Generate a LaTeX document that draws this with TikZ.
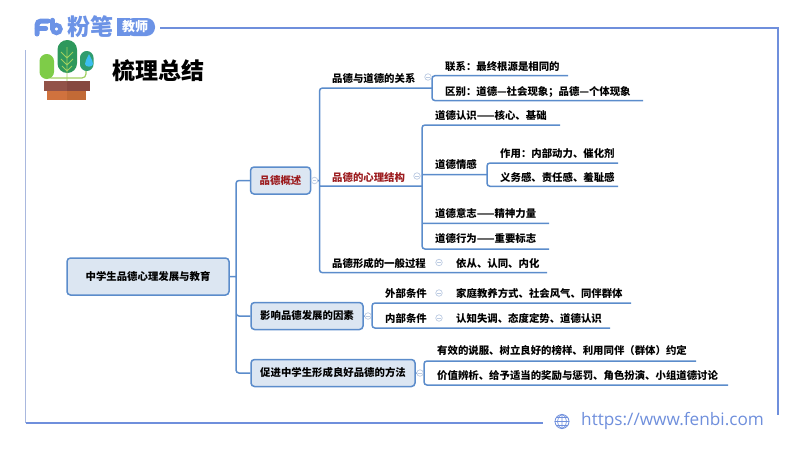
\documentclass[tikz,border=0pt]{standalone}
\usepackage{fontspec}
\setmainfont{Noto Sans CJK SC}
\newfontfamily\urlfont{Open Sans}
\usetikzlibrary{positioning}
\definecolor{linkblue}{HTML}{5B8CCB}
\definecolor{boxfill}{HTML}{DCE6F2}
\definecolor{foldblue}{HTML}{BCCBE2}
\definecolor{darkred}{HTML}{9C1C1F}
\definecolor{framedark}{HTML}{6F8FDC}
\definecolor{framelight}{HTML}{A9B8DE}
\definecolor{logoblue}{HTML}{6C93E6}
\definecolor{stemgreen}{HTML}{A0D060}
\definecolor{leafdark}{HTML}{2E985C}
\definecolor{leaflight}{HTML}{7ECC48}
\definecolor{leafmid}{HTML}{309C6E}
\definecolor{dropblue}{HTML}{3CBEF0}
\definecolor{potlight}{HTML}{D0723E}
\definecolor{potdark}{HTML}{C26A36}
\definecolor{rimlight}{HTML}{925248}
\definecolor{rimdark}{HTML}{864840}
\tikzset{
  link/.style={draw=linkblue,line width=1.5pt,rounded corners=3pt},
  mainbox/.style={draw=linkblue,fill=boxfill,line width=1.5pt,rounded corners=3.5pt,inner sep=0pt,font=\fontsize{10.4pt}{12pt}\selectfont\bfseries},
  leaf/.style={inner sep=0pt,anchor=west,text=black,text height=10.4pt,text depth=1pt,font=\fontsize{10.4pt}{12pt}\selectfont\bfseries},
  fold/.style={circle,draw=foldblue,fill=white,line width=.7pt,inner sep=0pt,minimum size=6.5pt,
    path picture={\draw[foldblue,line width=.6pt] ([xshift=-1.6pt]path picture bounding box.center) -- ([xshift=1.6pt]path picture bounding box.center);}},
}
\begin{document}
\begin{tikzpicture}[x=1pt,y=-1pt]
        \useasboundingbox (0,0) rectangle (800,450);
        % frame
        \coordinate (top_a) at (160,28);
        \coordinate (top_b) at (778,28);
        \coordinate (right_b) at (778,415);
        \coordinate (left_a) at (25.5,50);
        \coordinate (left_b) at (25.5,423);
        \coordinate (bottom_b) at (543,423);
        \draw[framedark,line width=1.3pt] (top_a) -- (top_b) -- (right_b);
        \draw[framelight,line width=1.5pt] (left_a) -- (left_b);
        \draw[framedark,line width=1.3pt] (left_b) -- (bottom_b);
        % logo
        \draw[logoblue,line width=5pt,line cap=round,rounded corners=4pt] (37,34) -- (37,21) -- (48,21);
        \draw[logoblue,line width=4.4pt,line cap=round] (37,28.5) -- (46,28.5);
        \draw[logoblue,line width=4.4pt,line cap=round] (52.5,20) -- (52.5,29);
        \draw[logoblue,line width=4.4pt] (56.5,29) circle (4);
        \node[text=logoblue,inner sep=0pt,font=\fontsize{23pt}{25pt}\selectfont\bfseries] (fenbi) at (90,27) {粉笔};
        \fill[logoblue,rounded corners=8.5pt] (125,18) -- (155,18) -- (155,36) -- (125,36) -- cycle;
        \fill[logoblue] (117,18) rectangle (130,36);
        \node[text=white,inner sep=0pt,font=\fontsize{13pt}{14pt}\selectfont\bfseries] (jiaoshi) at (135,27) {教师};
        % plant
        \fill[potlight] (47,91) rectangle (66.5,100);
        \fill[potdark] (66.5,91) rectangle (86,100);
        \fill[rimlight] (43.5,81) rectangle (66.5,91);
        \fill[rimdark] (66.5,81) rectangle (90,91);
        \draw[stemgreen,line width=1.2pt,rounded corners=4pt] (47,72) -- (47,78) -- (86,78) -- (86,71);
        \fill[leafdark,rounded corners=9.7pt] (57.5,40) rectangle (77,73);
        \draw[stemgreen,line width=.9pt] (67,47) -- (67,81)
          (61,52) -- (67,58) -- (73,52) (61,59) -- (67,65) -- (73,59) (62,66) -- (67,71) -- (72,66);
        \fill[leaflight,rounded corners=7.2pt] (39.5,54) rectangle (54,79);
        \fill[leafmid,rounded corners=6.7pt] (80,51) rectangle (93.5,71);
        \fill[dropblue] (89,54) .. controls (86,60) and (85,62) .. (85,64) .. controls (85,67.5) and (93,67.5) .. (93,64) .. controls (93,62) and (92,60) .. (89,54);
        \node[inner sep=0pt,font=\fontsize{23pt}{25pt}\selectfont\bfseries] (title) at (158,71) {梳理总结};
        % url
        \node[inner sep=0pt,draw=framedark,line width=.8pt,circle,minimum size=14pt] (globe) at (562,421.5) {};
        \draw[framedark,line width=.7pt] (globe.north) -- (globe.south) (globe.west) -- (globe.east)
          (globe.north) .. controls (556,416) and (556,427) .. (globe.south)
          (globe.north) .. controls (568,416) and (568,427) .. (globe.south)
          (556,417.5) -- (568,417.5) (556,425.5) -- (568,425.5);
        \node[inner sep=0pt,anchor=west,text=framedark,font=\fontsize{17.2pt}{20pt}\urlfont] (url) at (581,421) {https://www.fenbi.com};
        % main boxes
        \node[mainbox,minimum width=162pt,minimum height=37pt] (root) at (148,276.5) {中学生品德心理发展与教育};
        \node[mainbox,minimum width=60pt,minimum height=27pt,text=darkred] (gaishu) at (280.5,180.5) {品德概述};
        \node[mainbox,minimum width=112pt,minimum height=27pt] (yingxiang) at (307,316) {影响品德发展的因素};
        \node[mainbox,minimum width=164pt,minimum height=27pt] (cujin) at (333,373) {促进中学生形成良好品德的方法};
        % first level text
        \node[leaf] (guanxi) at (332,78) {品德与道德的关系};
        \node[leaf,text=darkred,below=99pt of guanxi.west,anchor=west] (jiegou) {品德的心理结构};
        \node[leaf,below=86pt of jiegou.west,anchor=west] (guocheng) {品德形成的一般过程};
        \node[leaf,right=30pt of guocheng.east,anchor=west] (yicong) {依从、认同、内化};
        \node[leaf] (lianxi) at (445,65.5) {联系：最终根源是相同的};
        \node[leaf,below=25pt of lianxi.west,anchor=west] (qubie) {区别：道德—社会现象；品德—个体现象};
        \node[leaf] (renshi) at (435,115) {道德认识——核心、基础};
        \node[leaf,below=49pt of renshi.west,anchor=west] (qinggan) {道德情感};
        \node[leaf,below=49pt of qinggan.west,anchor=west] (yizhi) {道德意志——精神力量};
        \node[leaf,below=25pt of yizhi.west,anchor=west] (xingwei) {道德行为——重要标志};
        \node[leaf] (zuoyong) at (500,153) {作用：内部动力、催化剂};
        \node[leaf,below=24pt of zuoyong.west,anchor=west] (yiwu) {义务感、责任感、羞耻感};
        \node[leaf] (waibu) at (385,293) {外部条件};
        \node[leaf,below=25pt of waibu.west,anchor=west] (neibu) {内部条件};
        \node[leaf] (jiating) at (456,293) {家庭教养方式、社会风气、同伴群体};
        \node[leaf,below=25pt of jiating.west,anchor=west] (renzhi) {认知失调、态度定势、道德认识};
        \node[leaf] (shuofu) at (437,350) {有效的说服、树立良好的榜样、利用同伴（群体）约定};
        \node[leaf,below=25pt of shuofu.west,anchor=west] (bianxi) {价值辨析、给予适当的奖励与惩罚、角色扮演、小组道德讨论};
        % forks and line ends
        \coordinate (fork_main) at (236,276.5);
        \coordinate (fork_gaishu) at (319.5,180.5);
        \coordinate (fork_guanxi) at (432,88);
        \coordinate (fork_jiegou) at (422,186);
        \coordinate (fork_qinggan) at (487,174.5);
        \coordinate (fork_yingxiang) at (372,316);
        \coordinate (fork_cujin) at (424,373);
        \coordinate (end_guocheng) at (547,272.7);
        \coordinate (end_lianxi) at (568,75.7);
        \coordinate (end_qubie) at (643,100.6);
        \coordinate (end_renshi) at (560,125);
        \coordinate (end_yizhi) at (549,223.3);
        \coordinate (end_xingwei) at (549,249);
        \coordinate (end_zuoyong) at (618,163);
        \coordinate (end_yiwu) at (618,186.3);
        \coordinate (end_waibu) at (631,303);
        \coordinate (end_neibu) at (610,328);
        \coordinate (end_shuofu) at (696,361);
        \coordinate (end_bianxi) at (728,385);
        % connectors
        \path[link]
        (root.east) -- (fork_main)
        (gaishu.west) -| (fork_main)
        (yingxiang.west) -| (fork_main)
        (cujin.west) -| (fork_main);
        \path[link]
        (fork_guanxi) -| (fork_gaishu) |- (end_guocheng)
        (gaishu.east) -- (fork_gaishu)
        (fork_gaishu |- fork_jiegou) -- (fork_jiegou);
        \path[link]
        (end_lianxi) -| (fork_guanxi) |- (end_qubie);
        \path[link]
        (end_renshi) -| (fork_jiegou) |- (end_xingwei)
        (fork_jiegou |- end_yizhi) -- (end_yizhi)
        (fork_jiegou |- fork_qinggan) -- (fork_qinggan);
        \path[link]
        (end_zuoyong) -| (fork_qinggan) |- (end_yiwu);
        \path[link]
        (yingxiang.east) -- (fork_yingxiang)
        (end_waibu) -| (fork_yingxiang) |- (end_neibu);
        \path[link]
        (cujin.east) -- (fork_cujin)
        (end_shuofu) -| (fork_cujin) |- (end_bianxi);
        % fold marks
        \node[fold] (fold_gaishu) at (314.5,180.5) {};
        \node[fold] (fold_guanxi) at (428,77) {};
        \node[fold] (fold_jiegou) at (417,176) {};
        \node[fold] (fold_guocheng) at (439,262.5) {};
        \node[fold] (fold_yingxiang) at (368,316) {};
        \node[fold] (fold_waibu) at (439,293) {};
        \node[fold] (fold_neibu) at (439,318) {};
        \node[fold] (fold_cujin) at (420,373) {};
      \end{tikzpicture}
\end{document}
